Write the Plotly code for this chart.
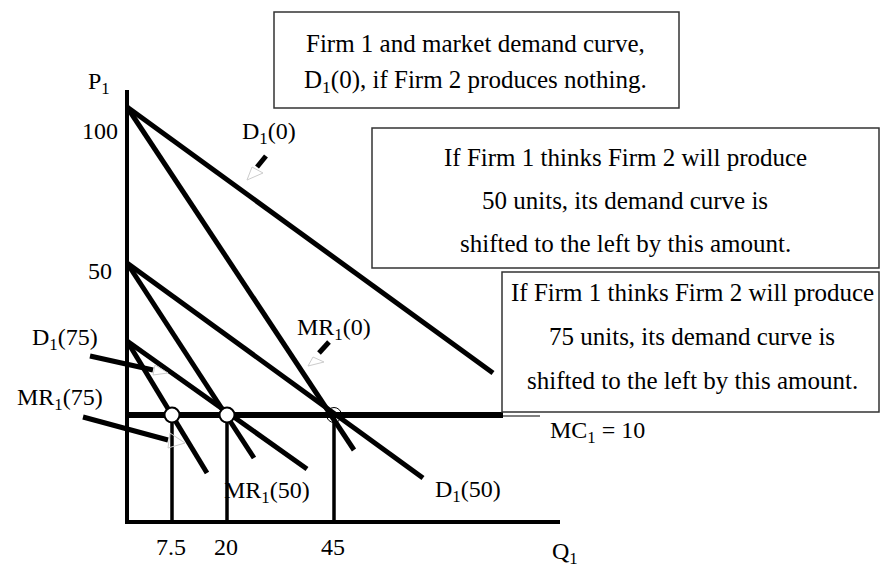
import plotly.graph_objects as go

# Schematic diagram (not drawn to scale). Coordinates:
# x = distance to the right of the price axis, y = height above the quantity axis.
curve_labels = ["D<sub>1</sub>(0)", "MR<sub>1</sub>(0)", "D<sub>1</sub>(50)",
                "MR<sub>1</sub>(50)", "D<sub>1</sub>(75)", "MR<sub>1</sub>(75)"]
curve_x_start = [0, 0, 0, 0, 0, 0]
curve_y_start = [415, 415, 259, 259, 181, 181]
curve_x_end = [366, 227, 296, 127, 180, 80]
curve_y_end = [149, 72, 44, 64, 53, 49]

mc_value_y = 107          # MC1 = 10
mc_x_end = 376
q_star_x = [45, 100, 207]  # Q1 = 7.5, 20, 45
q_tick_labels = ["7.5", "20", "45"]
p_tick_labels = ["100", "50"]
p_tick_y = [391, 251]

axis_top = 432
axis_right = 433

box_texts = [
    ["Firm 1 and market demand curve,", "D<sub>1</sub>(0), if Firm 2 produces nothing."],
    ["If Firm 1 thinks Firm 2 will produce", "50 units, its demand curve is",
     "shifted to the left by this amount."],
    ["If Firm 1 thinks Firm 2 will produce", "75 units, its demand curve is",
     "shifted to the left by this amount."],
]
box_x0 = [147, 245, 375]
box_x1 = [552, 752, 752]
box_y0 = [414, 254, 110]
box_y1 = [510, 394, 250]
box_text_x = [348, 498, 565]
box_line_y = [[479, 441], [365, 322, 279], [230, 186, 142]]

# callout leaders (thick stub + faint arrowhead)
leader_x = [[139, 130], [202, 192], [-37, 26], [-44, 41]]
leader_y = [[366, 355], [180, 169], [166, 152], [105, 82]]
arrow_x = [[125, 120, 136], [186, 181, 197], [28, 26, 41], [43, 41, 58]]
arrow_y = [[355, 342, 349], [165, 156, 160], [157, 147, 149], [89, 74, 79]]

label_pos_x = [142, 207, 341, 140, -62, -67]
label_pos_y = [389, 193, 31, 30, 183, 123]

FONT = "Liberation Serif, Times New Roman, serif"

fig = go.Figure()

# axes
fig.add_trace(go.Scatter(x=[0, 0, axis_right], y=[axis_top, 0, 0], mode="lines",
                         line=dict(color="black", width=4), hoverinfo="skip"))
# curves
for i in range(len(curve_labels)):
    fig.add_trace(go.Scatter(x=[curve_x_start[i], curve_x_end[i]],
                             y=[curve_y_start[i], curve_y_end[i]], mode="lines",
                             line=dict(color="black", width=5), hoverinfo="skip"))
# MC line
fig.add_trace(go.Scatter(x=[0, mc_x_end], y=[mc_value_y, mc_value_y], mode="lines",
                         line=dict(color="black", width=6), hoverinfo="skip"))
fig.add_trace(go.Scatter(x=[mc_x_end, 413], y=[mc_value_y - 1, mc_value_y - 1], mode="lines",
                         line=dict(color="black", width=1), hoverinfo="skip"))
# drop lines
for q in q_star_x:
    fig.add_trace(go.Scatter(x=[q, q], y=[mc_value_y, 0], mode="lines",
                             line=dict(color="black", width=3.5), hoverinfo="skip"))
# leaders
for lx, ly in zip(leader_x, leader_y):
    fig.add_trace(go.Scatter(x=lx, y=ly, mode="lines",
                             line=dict(color="black", width=5), hoverinfo="skip"))
for ax_, ay_ in zip(arrow_x, arrow_y):
    fig.add_trace(go.Scatter(x=ax_ + [ax_[0]], y=ay_ + [ay_[0]], mode="lines",
                             line=dict(color="#cccccc", width=1), hoverinfo="skip"))
# equilibrium markers
fig.add_trace(go.Scatter(x=q_star_x[:2], y=[mc_value_y] * 2, mode="markers",
                         marker=dict(size=15, color="white", line=dict(color="black", width=2)),
                         hoverinfo="skip"))
fig.add_trace(go.Scatter(x=[q_star_x[2]], y=[mc_value_y], mode="markers",
                         marker=dict(size=15, symbol="circle-open", color="black",
                                     line=dict(width=1)),
                         hoverinfo="skip"))

shapes = []
for i in range(3):
    shapes.append(dict(type="rect", xref="x", yref="y", x0=box_x0[i], x1=box_x1[i],
                       y0=box_y0[i], y1=box_y1[i], fillcolor="white",
                       line=dict(color="#333333", width=1.5), layer="above"))

ann = []
def add_text(x, y, text, size=24):
    ann.append(dict(x=x, y=y, xref="x", yref="y", text=text, showarrow=False,
                    font=dict(family=FONT, size=size, color="black"),
                    xanchor="center", yanchor="middle"))

for i in range(3):
    for line, ly in zip(box_texts[i], box_line_y[i]):
        add_text(box_text_x[i], ly, line, size=25)

for lab, lx, ly in zip(curve_labels, label_pos_x, label_pos_y):
    add_text(lx, ly, lab)

add_text(470, 90, "MC<sub>1</sub> = 10")
add_text(-28, 439, "P<sub>1</sub>")
add_text(438, -31, "Q<sub>1</sub>")
for t, q in zip(q_tick_labels, q_star_x):
    add_text(q - 1, -25, t)
for t, py in zip(p_tick_labels, p_tick_y):
    add_text(-27, py, t)

fig.update_layout(
    width=880, height=569, autosize=False,
    margin=dict(l=0, r=0, t=0, b=0),
    paper_bgcolor="white", plot_bgcolor="white",
    showlegend=False,
    xaxis=dict(range=[-127, 753], visible=False, fixedrange=True),
    yaxis=dict(range=[-47, 522], visible=False, fixedrange=True),
    shapes=shapes, annotations=ann,
)

fig.write_html("out.html", config={"displayModeBar": False},
               post_script="document.body.style.margin='0';document.body.style.overflow='hidden';")
